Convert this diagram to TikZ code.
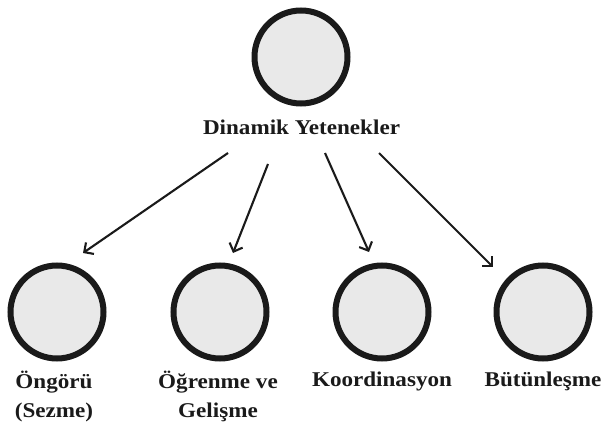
\documentclass[tikz,border=0pt]{standalone}
\usepackage{fontspec}
\setmainfont{Liberation Serif}[FakeStretch=1.1]
\usetikzlibrary{arrows.meta}
\definecolor{ringc}{HTML}{1A1A1A}
\definecolor{fillc}{HTML}{E9E9E9}
\tikzset{
  ring/.style={circle, draw=ringc, fill=fillc, line width=6pt, minimum size=93pt, inner sep=0pt},
  lbl/.style={anchor=base, font=\bfseries\fontsize{21pt}{25pt}\selectfont, text=ringc, inner sep=0pt},
  conn/.style={draw=ringc, line width=2.1pt, -{Straight Barb[length=7pt,width=14pt,line width=2.1pt]}}
}
\begin{document}
\begin{tikzpicture}[x=1pt,y=-1pt]
\useasboundingbox (0,0) rectangle (604,430);
\node[ring] (top) at (301,57) {};
\node[lbl] (toplbl) at (301.5,135) {Dinamik Yetenekler};
\node[ring] (c1) at (57,312) {};
\node[ring] (c2) at (220,312) {};
\node[ring] (c3) at (382,312) {};
\node[ring] (c4) at (543,312) {};
\node[lbl] (l1a) at (54,388) {Öngörü};
\node[lbl] (l1b) at (54,417) {(Sezme)};
\node[lbl] (l2a) at (218,388) {Öğrenme ve};
\node[lbl] (l2b) at (218,417) {Gelişme};
\node[lbl] (l3) at (382,386) {Koordinasyon};
\node[lbl] (l4) at (543,386) {Bütünleşme};
\coordinate (s1) at (228,153);
\coordinate (e1) at (83,253);
\coordinate (s2) at (268,164);
\coordinate (e2) at (233,253);
\coordinate (s3) at (325,153);
\coordinate (e3) at (369,252);
\coordinate (s4) at (379,153);
\coordinate (e4) at (493,267);
\draw[conn] (s1) -- (e1);
\draw[conn] (s2) -- (e2);
\draw[conn] (s3) -- (e3);
\draw[conn] (s4) -- (e4);
\end{tikzpicture}
\end{document}
